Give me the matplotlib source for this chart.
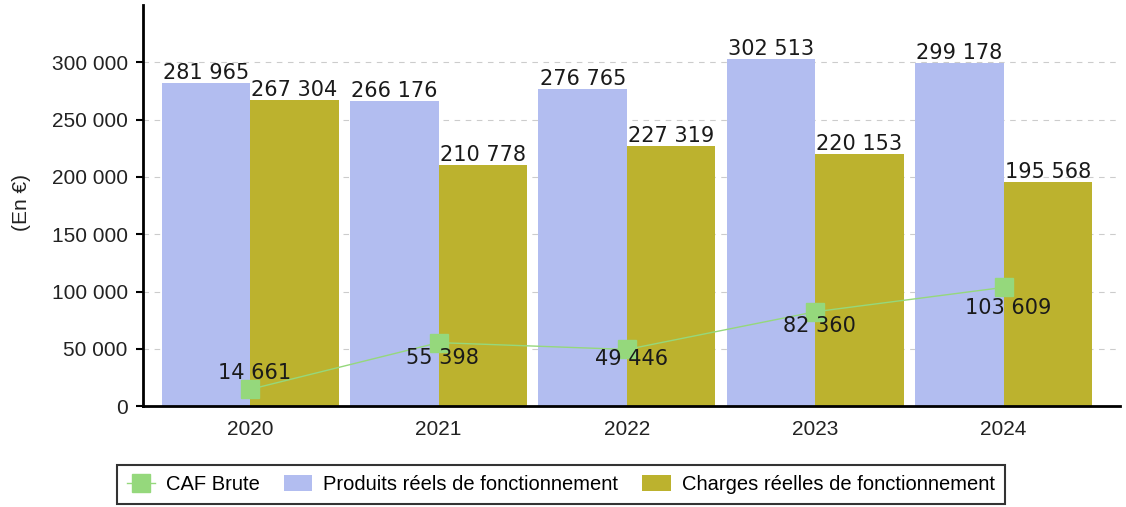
import matplotlib.pyplot as plt
import numpy as np
from matplotlib.ticker import FuncFormatter

years = ['2020', '2021', '2022', '2023', '2024']
produits = [281965, 266176, 276765, 302513, 299178]
charges = [267304, 210778, 227319, 220153, 195568]
caf = [14661, 55398, 49446, 82360, 103609]
# vertical offset of each CAF label (points)
caf_dy = [12, -11, -7, -10, -15]

BLUE = '#b2bdf0'
OLIVE = '#bcb22e'
GREEN = '#95d87c'

def fmt(v):
    return f"{int(v):,}".replace(",", " ")

fig = plt.figure(figsize=(11.26, 5.07), dpi=100)
ax = fig.add_axes([0.127, 0.199, 0.868, 0.791])

x = np.arange(len(years))
w = 0.47
b1 = ax.bar(x - w / 2, produits, w, color=BLUE, label='Produits réels de fonctionnement', zorder=2)
b2 = ax.bar(x + w / 2, charges, w, color=OLIVE, label='Charges réelles de fonctionnement', zorder=2)

for rects, vals in [(b1, produits), (b2, charges)]:
    for r, v in zip(rects, vals):
        ax.annotate(fmt(v), (r.get_x() + r.get_width() / 2, v), xytext=(0, 0),
                    textcoords='offset points', ha='center', va='bottom',
                    fontsize=15, family='DejaVu Sans', color='#1a1a1a', zorder=5)

ln, = ax.plot(x, caf, color=GREEN, lw=1, marker='s', ms=13, mec=GREEN, mfc=GREEN,
              label='CAF Brute', zorder=3)
for xi, v, dy in zip(x, caf, caf_dy):
    ax.annotate(fmt(v), (xi, v), xytext=(3, dy), textcoords='offset points',
                ha='center', va='center', fontsize=15, family='DejaVu Sans',
                color='#1a1a1a', zorder=5)

ax.set_xlim(-0.57, 4.62)
ax.set_ylim(0, 350000)
ax.set_yticks(np.arange(0, 300001, 50000))
ax.yaxis.set_major_formatter(FuncFormatter(lambda v, p: fmt(v)))
ax.set_xticks(x)
ax.set_xticklabels(years)
ax.tick_params(axis='y', labelsize=15, length=5, width=1.5, pad=6)
ax.tick_params(axis='x', labelsize=15, length=0, pad=10)
for lab in ax.get_xticklabels() + ax.get_yticklabels():
    lab.set_family('Liberation Sans')
    lab.set_color('#222222')

ax.grid(axis='y', color='#cccccc', ls=(0, (5, 5)), lw=0.8, zorder=0)
ax.spines['top'].set_visible(False)
ax.spines['right'].set_visible(False)
ax.spines['left'].set_linewidth(2)
ax.spines['bottom'].set_linewidth(2)

fig.text(0.019, 0.60, '(En €)', rotation=90, va='center', ha='center',
         fontsize=15, family='Liberation Sans', color='#222222')

leg = fig.legend(handles=[ln, b1, b2], loc='center', bbox_to_anchor=(0.498, 0.044),
                 ncol=3, frameon=True, fancybox=False, edgecolor='black',
                 prop={'family': 'Liberation Sans', 'size': 14.5},
                 handlelength=1.4, handleheight=0.85, handletextpad=0.55,
                 columnspacing=1.2, borderpad=0.5, borderaxespad=0)
leg.get_frame().set_linewidth(1.5)

fig.savefig('out.png', dpi=100)
